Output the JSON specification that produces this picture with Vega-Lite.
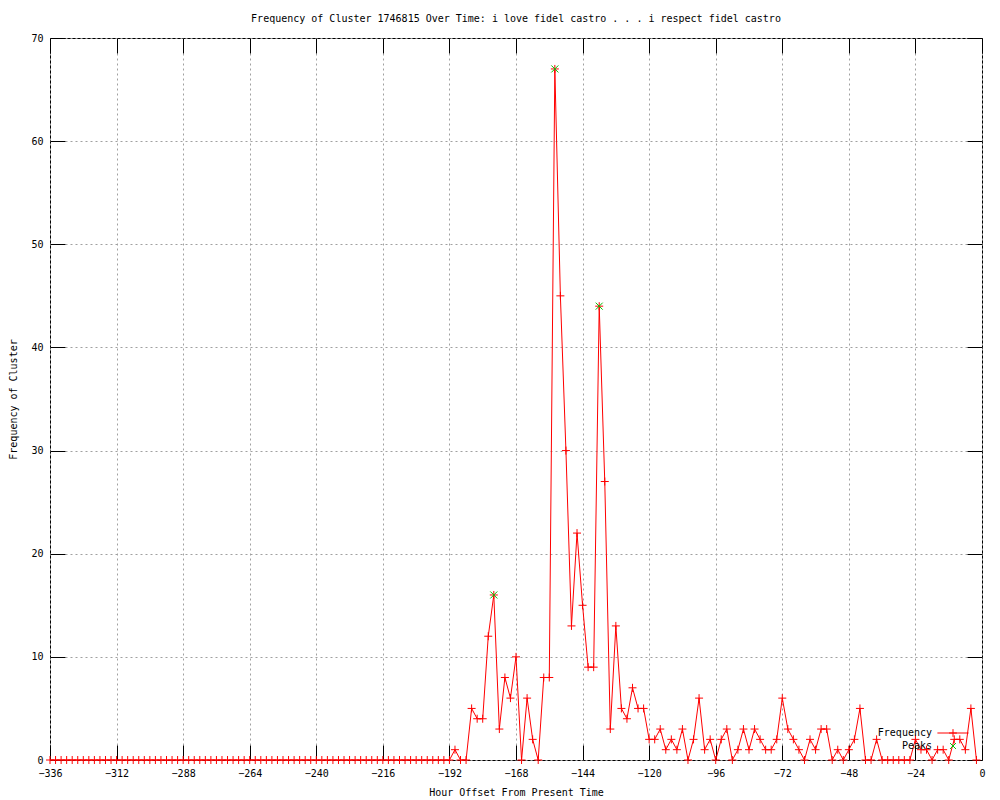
{
  "$schema": "https://vega.github.io/schema/vega-lite/v6.json",
  "width": 932,
  "height": 722,
  "autosize": {"type": "none"},
  "padding": {"left": 50, "top": 38, "right": 18, "bottom": 40},
  "background": "white",
  "title": {
    "text": "Frequency of Cluster 1746815 Over Time: i love fidel castro . . . i respect fidel castro",
    "font": "DejaVu Sans Mono",
    "fontSize": 10,
    "fontWeight": "normal",
    "color": "black",
    "offset": 9
  },
  "config": {
    "view": {"stroke": "black", "strokeWidth": 1},
    "axis": {
      "labelFont": "DejaVu Sans Mono",
      "labelFontSize": 10,
      "labelColor": "black",
      "titleFont": "DejaVu Sans Mono",
      "titleFontSize": 10,
      "titleFontWeight": "normal",
      "titleColor": "black",
      "tickColor": "black",
      "tickWidth": 1,
      "domain": false,
      "gridColor": "#a0a0a0",
      "gridDash": [2, 3],
      "gridWidth": 1,
      "gridOpacity": 1,
      "labelFlush": false,
      "labelOverlap": false
    },
    "legend": {
      "labelFont": "DejaVu Sans Mono",
      "labelFontSize": 10,
      "labelColor": "black",
      "labelAlign": "right",
      "labelOffset": -28,
      "symbolSize": 169,
      "symbolStrokeWidth": 1,
      "symbolOpacity": 1,
      "rowPadding": 0,
      "padding": 0,
      "labelLimit": 0
    }
  },
  "datasets": {
    "freq": [
      {"h": -336, "f": 0}, {"h": -334, "f": 0}, {"h": -332, "f": 0}, {"h": -330, "f": 0}, {"h": -328, "f": 0}, {"h": -326, "f": 0}, {"h": -324, "f": 0}, {"h": -322, "f": 0}, {"h": -320, "f": 0}, {"h": -318, "f": 0},
      {"h": -316, "f": 0}, {"h": -314, "f": 0}, {"h": -312, "f": 0}, {"h": -310, "f": 0}, {"h": -308, "f": 0}, {"h": -306, "f": 0}, {"h": -304, "f": 0}, {"h": -302, "f": 0}, {"h": -300, "f": 0}, {"h": -298, "f": 0},
      {"h": -296, "f": 0}, {"h": -294, "f": 0}, {"h": -292, "f": 0}, {"h": -290, "f": 0}, {"h": -288, "f": 0}, {"h": -286, "f": 0}, {"h": -284, "f": 0}, {"h": -282, "f": 0}, {"h": -280, "f": 0}, {"h": -278, "f": 0},
      {"h": -276, "f": 0}, {"h": -274, "f": 0}, {"h": -272, "f": 0}, {"h": -270, "f": 0}, {"h": -268, "f": 0}, {"h": -266, "f": 0}, {"h": -264, "f": 0}, {"h": -262, "f": 0}, {"h": -260, "f": 0}, {"h": -258, "f": 0},
      {"h": -256, "f": 0}, {"h": -254, "f": 0}, {"h": -252, "f": 0}, {"h": -250, "f": 0}, {"h": -248, "f": 0}, {"h": -246, "f": 0}, {"h": -244, "f": 0}, {"h": -242, "f": 0}, {"h": -240, "f": 0}, {"h": -238, "f": 0},
      {"h": -236, "f": 0}, {"h": -234, "f": 0}, {"h": -232, "f": 0}, {"h": -230, "f": 0}, {"h": -228, "f": 0}, {"h": -226, "f": 0}, {"h": -224, "f": 0}, {"h": -222, "f": 0}, {"h": -220, "f": 0}, {"h": -218, "f": 0},
      {"h": -216, "f": 0}, {"h": -214, "f": 0}, {"h": -212, "f": 0}, {"h": -210, "f": 0}, {"h": -208, "f": 0}, {"h": -206, "f": 0}, {"h": -204, "f": 0}, {"h": -202, "f": 0}, {"h": -200, "f": 0}, {"h": -198, "f": 0},
      {"h": -196, "f": 0}, {"h": -194, "f": 0}, {"h": -192, "f": 0}, {"h": -190, "f": 1}, {"h": -188, "f": 0}, {"h": -186, "f": 0}, {"h": -184, "f": 5}, {"h": -182, "f": 4}, {"h": -180, "f": 4}, {"h": -178, "f": 12},
      {"h": -176, "f": 16}, {"h": -174, "f": 3}, {"h": -172, "f": 8}, {"h": -170, "f": 6}, {"h": -168, "f": 10}, {"h": -166, "f": 0}, {"h": -164, "f": 6}, {"h": -162, "f": 2}, {"h": -160, "f": 0}, {"h": -158, "f": 8},
      {"h": -156, "f": 8}, {"h": -154, "f": 67}, {"h": -152, "f": 45}, {"h": -150, "f": 30}, {"h": -148, "f": 13}, {"h": -146, "f": 22}, {"h": -144, "f": 15}, {"h": -142, "f": 9}, {"h": -140, "f": 9}, {"h": -138, "f": 44},
      {"h": -136, "f": 27}, {"h": -134, "f": 3}, {"h": -132, "f": 13}, {"h": -130, "f": 5}, {"h": -128, "f": 4}, {"h": -126, "f": 7}, {"h": -124, "f": 5}, {"h": -122, "f": 5}, {"h": -120, "f": 2}, {"h": -118, "f": 2},
      {"h": -116, "f": 3}, {"h": -114, "f": 1}, {"h": -112, "f": 2}, {"h": -110, "f": 1}, {"h": -108, "f": 3}, {"h": -106, "f": 0}, {"h": -104, "f": 2}, {"h": -102, "f": 6}, {"h": -100, "f": 1}, {"h": -98, "f": 2},
      {"h": -96, "f": 0}, {"h": -94, "f": 2}, {"h": -92, "f": 3}, {"h": -90, "f": 0}, {"h": -88, "f": 1}, {"h": -86, "f": 3}, {"h": -84, "f": 1}, {"h": -82, "f": 3}, {"h": -80, "f": 2}, {"h": -78, "f": 1},
      {"h": -76, "f": 1}, {"h": -74, "f": 2}, {"h": -72, "f": 6}, {"h": -70, "f": 3}, {"h": -68, "f": 2}, {"h": -66, "f": 1}, {"h": -64, "f": 0}, {"h": -62, "f": 2}, {"h": -60, "f": 1}, {"h": -58, "f": 3},
      {"h": -56, "f": 3}, {"h": -54, "f": 0}, {"h": -52, "f": 1}, {"h": -50, "f": 0}, {"h": -48, "f": 1}, {"h": -46, "f": 2}, {"h": -44, "f": 5}, {"h": -42, "f": 0}, {"h": -40, "f": 0}, {"h": -38, "f": 2},
      {"h": -36, "f": 0}, {"h": -34, "f": 0}, {"h": -32, "f": 0}, {"h": -30, "f": 0}, {"h": -28, "f": 0}, {"h": -26, "f": 0}, {"h": -24, "f": 2}, {"h": -22, "f": 1}, {"h": -20, "f": 1}, {"h": -18, "f": 0},
      {"h": -16, "f": 1}, {"h": -14, "f": 1}, {"h": -12, "f": 0}, {"h": -10, "f": 2}, {"h": -8, "f": 2}, {"h": -6, "f": 1}, {"h": -4, "f": 5}, {"h": -2, "f": 0}
    ],
    "peaks": [
      {"h": -176, "f": 16}, {"h": -154, "f": 67}, {"h": -138, "f": 44}
    ],
    "legend": [
      {"series": "Frequency"}, {"series": "Peaks"}
    ]
  },
  "resolve": {"axis": {"x": "independent", "y": "independent"}},
  "layer": [
    {
      "data": {"name": "freq"},
      "mark": {"type": "line", "color": "#ff0000", "strokeWidth": 1},
      "encoding": {
        "x": {
          "field": "h", "type": "quantitative",
          "scale": {"domain": [-336, 0], "nice": false, "zero": false},
          "axis": {
            "orient": "bottom",
            "values": [-336, -312, -288, -264, -240, -216, -192, -168, -144, -120, -96, -72, -48, -24, 0],
            "format": "d",
            "tickSize": -15,
            "labelPadding": 23,
            "grid": true,
            "title": "Hour Offset From Present Time",
            "titlePadding": 9
          }
        },
        "y": {
          "field": "f", "type": "quantitative",
          "scale": {"domain": [0, 70], "nice": false},
          "axis": {
            "orient": "left",
            "values": [0, 10, 20, 30, 40, 50, 60, 70],
            "format": "d",
            "tickSize": -15,
            "labelPadding": 22,
            "grid": true,
            "title": "Frequency of Cluster",
            "titlePadding": 12
          }
        }
      }
    },
    {
      "data": {"name": "freq"},
      "mark": {"type": "point", "shape": "M-1,0H1M0,-1V1", "size": 64, "filled": false, "color": "#ff0000", "strokeWidth": 1, "opacity": 1},
      "encoding": {
        "x": {
          "field": "h", "type": "quantitative",
          "axis": {
            "orient": "top",
            "values": [-336, -312, -288, -264, -240, -216, -192, -168, -144, -120, -96, -72, -48, -24, 0],
            "tickSize": -15, "labels": false, "grid": false, "title": null
          }
        },
        "y": {
          "field": "f", "type": "quantitative",
          "axis": {
            "orient": "right",
            "values": [0, 10, 20, 30, 40, 50, 60, 70],
            "tickSize": -15, "labels": false, "grid": false, "title": null
          }
        }
      }
    },
    {
      "data": {"name": "peaks"},
      "mark": {"type": "point", "shape": "M-1,-1L1,1M-1,1L1,-1", "size": 49, "filled": false, "color": "#00c000", "strokeWidth": 1, "opacity": 1},
      "encoding": {
        "x": {"field": "h", "type": "quantitative", "axis": null},
        "y": {"field": "f", "type": "quantitative", "axis": null}
      }
    },
    {
      "data": {"name": "legend"},
      "mark": {"type": "point", "filled": false, "opacity": 0, "strokeWidth": 1},
      "encoding": {
        "shape": {
          "field": "series", "type": "nominal",
          "scale": {"domain": ["Frequency", "Peaks"], "range": ["M-2.4,0H2.4M-0.6,0H0.6M0,-0.6V0.6", "M-0.45,-0.45L0.45,0.45M-0.45,0.45L0.45,-0.45"]},
          "legend": {"orient": "none", "legendX": 896, "legendY": 688, "title": null}
        },
        "color": {
          "field": "series", "type": "nominal",
          "scale": {"domain": ["Frequency", "Peaks"], "range": ["#ff0000", "#00c000"]},
          "legend": {"orient": "none", "legendX": 896, "legendY": 688, "title": null}
        }
      }
    }
  ]
}
